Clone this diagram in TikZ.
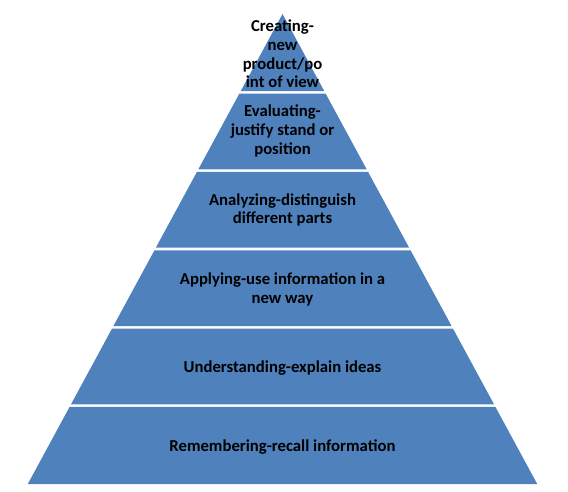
\documentclass[tikz,border=0pt]{standalone}
\usepackage{fontspec}
\setmainfont{Carlito}
\definecolor{bandblue}{HTML}{4F81BD}
\tikzset{
  bandtext/.style={font=\bfseries\fontsize{16.7}{18.6}\selectfont, align=center, text=black, inner sep=0pt},
  band/.style={fill=bandblue, draw=none}
}

\begin{document}
\begin{tikzpicture}[x=1pt,y=-1pt]
\useasboundingbox (0,0) rectangle (568,492);

% Parameters
\def\apexX{282.5}          % x of the tip
\def\apexY{14}             % y of the tip
\def\baseY{484}            % y of the base
\def\halfBase{254.7}       % half width of the base
\def\gap{2.6}              % white line between bands
\pgfmathsetmacro\bandH{(\baseY-\apexY)/6}

% Draw the six bands
\foreach \i in {0,...,5} {
    \pgfmathsetmacro\yt{\apexY + \i*\bandH + (\i>0)*\gap/2}
    \pgfmathsetmacro\yb{\apexY + (\i+1)*\bandH - (\i<5)*\gap/2}
    \pgfmathsetmacro\wt{\halfBase*((\yt-\apexY)/(\baseY-\apexY))}
    \pgfmathsetmacro\wb{\halfBase*((\yb-\apexY)/(\baseY-\apexY))}
    \fill[band] (\apexX-\wt,\yt) -- (\apexX+\wt,\yt) -- (\apexX+\wb,\yb) -- (\apexX-\wb,\yb) -- cycle;
}

% Labels
\node[bandtext] (create)     at (282.5,54)  {Creating-\\new\\product/po\\int of view};
\node[bandtext] (evaluate)   at (282.5,131) {Evaluating-\\justify stand or\\position};
\node[bandtext] (analyze)    at (282.5,210) {Analyzing-distinguish\\different parts};
\node[bandtext] (apply)      at (282.5,289.5) {Applying-use information in a\\new way};
\node[bandtext] (understand) at (282.5,368) {Understanding-explain ideas};
\node[bandtext] (remember)   at (282.5,447) {Remembering-recall information};

\end{tikzpicture}
\end{document}
